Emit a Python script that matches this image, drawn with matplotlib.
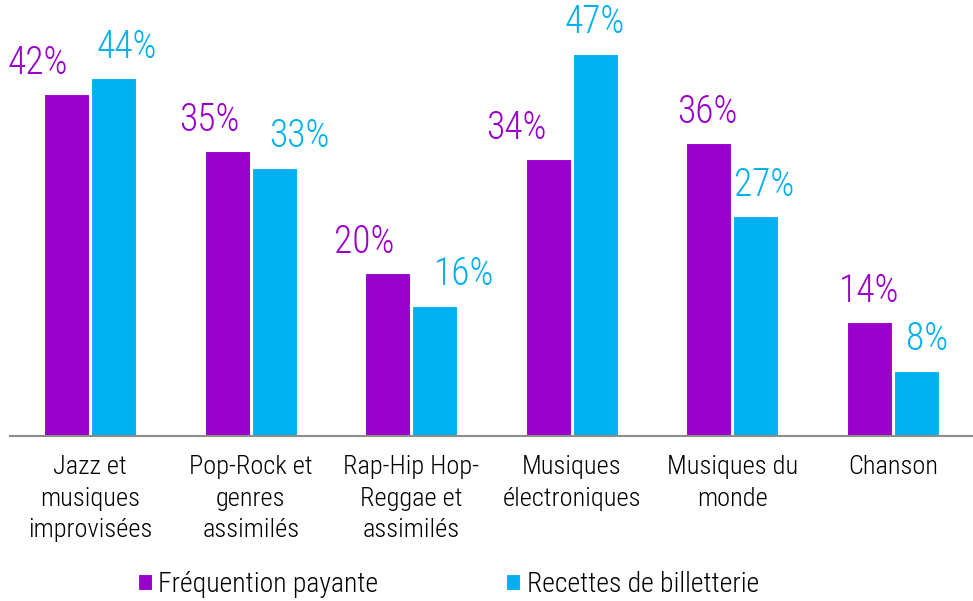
import matplotlib.pyplot as plt
import numpy as np

plt.rcParams['font.family'] = ['Roboto Condensed', 'Liberation Sans Narrow', 'DejaVu Sans']
plt.rcParams['font.weight'] = 'light'

categories = ["Jazz et\nmusiques\nimprovisées", "Pop-Rock et\ngenres\nassimilés",
              "Rap-Hip Hop-\nReggae et\nassimilés", "Musiques\nélectroniques",
              "Musiques du\nmonde", "Chanson"]
frequentation = [42, 35, 20, 34, 36, 14]
recettes = [44, 33, 16, 47, 27, 8]
series_names = ["Fréquention payante", "Recettes de billetterie"]

purple = '#9900CC'
blue = '#00B0F0'

# horizontal nudges of the value labels (pixels), as placed in the original
nudge_freq = [-29, -18, -24, -32, -2, 0]
nudge_rec = [13, 25, 29, 0, 8, 11]

fig = plt.figure(figsize=(9.73, 6.01), dpi=100)
ax = fig.add_axes([0.0103, 0.2745, 0.9897, 0.7255])

x = np.arange(len(categories))
w = 0.28
b1 = ax.bar(x - w / 2 - 0.006, frequentation, w, color=purple, edgecolor='white', linewidth=0.8, label=series_names[0])
b2 = ax.bar(x + w / 2 + 0.006, recettes, w, color=blue, edgecolor='white', linewidth=0.8, label=series_names[1])

for rect, v, dx in zip(b1, frequentation, nudge_freq):
    ax.annotate(f"{v}%", (rect.get_x() + rect.get_width() / 2, v), xytext=(dx * 0.72, 9),
                textcoords='offset points', ha='center', va='bottom', fontsize=27, color=purple)
for rect, v, dx in zip(b2, recettes, nudge_rec):
    ax.annotate(f"{v}%", (rect.get_x() + rect.get_width() / 2, v), xytext=(dx * 0.72, 9),
                textcoords='offset points', ha='center', va='bottom', fontsize=27, color=blue)

ax.set_xlim(-0.5, len(categories) - 0.5)
ax.set_ylim(0, 53.6)
ax.set_xticks(x)
ax.set_xticklabels(categories, fontsize=19, linespacing=1.38)
ax.tick_params(axis='x', length=0, pad=14)
ax.set_yticks([])
for s in ['top', 'right', 'left']:
    ax.spines[s].set_visible(False)
ax.spines['bottom'].set_color('#8c8c8c')
ax.spines['bottom'].set_linewidth(1.5)

fig.legend(handles=[b1, b2], labels=series_names, loc='lower center', bbox_to_anchor=(0.461, -0.036),
           ncol=2, frameon=False, fontsize=20, handlelength=0.5, handleheight=0.5,
           handletextpad=0.25, columnspacing=4.6)

fig.savefig('out.png', dpi=100)
